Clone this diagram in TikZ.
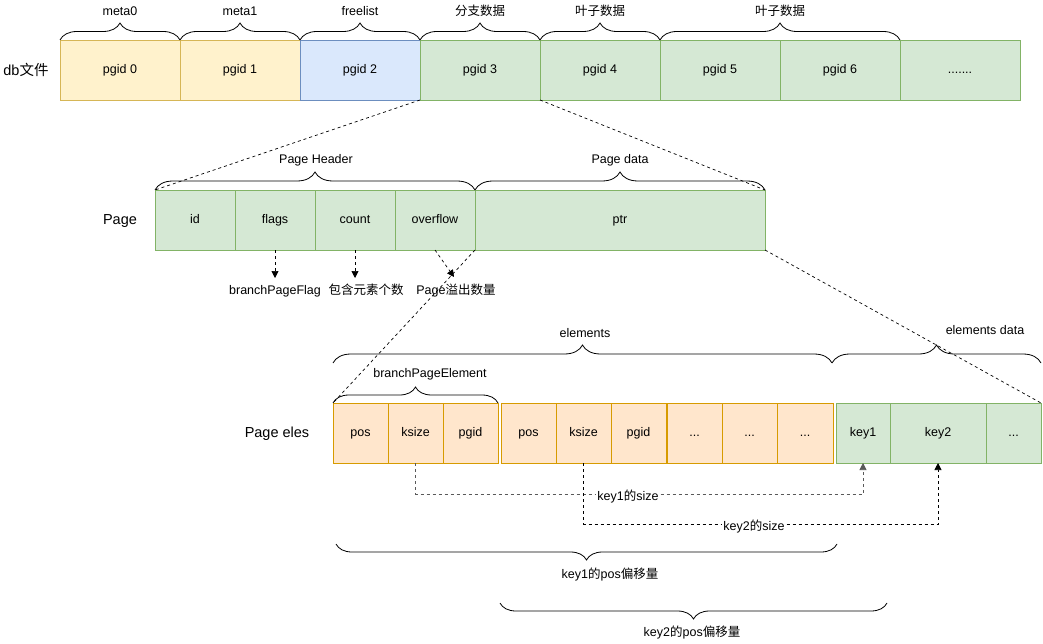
\documentclass[tikz,border=0pt]{standalone}
\usepackage{fontspec}
\setmainfont{Liberation Sans}
\newfontfamily\cjk{Noto Sans CJK SC}
\usetikzlibrary{decorations.pathreplacing,arrows.meta}
\definecolor{yfill}{HTML}{FFF2CC}
\definecolor{ystroke}{HTML}{D6B656}
\definecolor{bfill}{HTML}{DAE8FC}
\definecolor{bstroke}{HTML}{6C8EBF}
\definecolor{gfill}{HTML}{D5E8D4}
\definecolor{gstroke}{HTML}{82B366}
\definecolor{ofill}{HTML}{FFE6CC}
\definecolor{ostroke}{HTML}{D79B00}
\begin{document}
\begin{tikzpicture}[x=1pt,y=-1pt,
  font=\fontsize{12.5}{15}\selectfont,
  cell/.style={draw, line width=0.8pt, inner sep=0pt, outer sep=0pt, minimum height=60pt, text height=9pt, text depth=2.5pt},
  ycell/.style={cell, draw=ystroke, fill=yfill},
  bcell/.style={cell, draw=bstroke, fill=bfill},
  gcell/.style={cell, draw=gstroke, fill=gfill},
  ocell/.style={cell, draw=ostroke, fill=ofill},
  lbl/.style={inner sep=1pt, text height=9pt, text depth=2.5pt},
  rowlbl/.style={inner sep=1pt, font=\fontsize{14.5}{17}\selectfont},
  brc/.style={decorate, decoration={brace, amplitude=#1}, line width=0.8pt},
  dline/.style={line width=0.7pt, dash pattern=on 3pt off 3pt},
  tip/.style={-{Triangle[length=7pt,width=7pt]}}
]
\useasboundingbox (0,0) rectangle (1043,644);

% ---------- db file row ----------
\node[rowlbl] (dbl) at (26,70) {db{\cjk 文件}};
\node[ycell, minimum width=120pt] (p0) at (120,70) {pgid 0};
\node[ycell, minimum width=120pt] (p1) at (240,70) {pgid 1};
\node[bcell, minimum width=120pt] (p2) at (360,70) {pgid 2};
\node[gcell, minimum width=120pt] (p3) at (480,70) {pgid 3};
\node[gcell, minimum width=120pt] (p4) at (600,70) {pgid 4};
\node[gcell, minimum width=120pt] (p5) at (720,70) {pgid 5};
\node[gcell, minimum width=120pt] (p6) at (840,70) {pgid 6};
\node[gcell, minimum width=120pt] (p7) at (960,70) {.......};

\draw[brc=17pt] (p0.north west) -- (p0.north east);
\draw[brc=17pt] (p1.north west) -- (p1.north east);
\draw[brc=17pt] (p2.north west) -- (p2.north east);
\draw[brc=17pt] (p3.north west) -- (p3.north east);
\draw[brc=17pt] (p4.north west) -- (p4.north east);
\draw[brc=17pt] (p5.north west) -- (p6.north east);
\node[lbl] (t0) at (120,12) {meta0};
\node[lbl] (t1) at (240,12) {meta1};
\node[lbl] (t2) at (360,12) {freelist};
\node[lbl] (t3) at (480,12) {\cjk 分支数据};
\node[lbl] (t4) at (600,12) {\cjk 叶子数据};
\node[lbl] (t5) at (780,12) {\cjk 叶子数据};

% ---------- Page row ----------
\node[rowlbl] (pagel) at (120,221) {Page};
\node[gcell, minimum width=80pt] (id) at (195,220) {id};
\node[gcell, minimum width=80pt] (flags) at (275,220) {flags};
\node[gcell, minimum width=80pt] (count) at (355,220) {count};
\node[gcell, minimum width=80pt] (ovf) at (435,220) {overflow};
\node[gcell, minimum width=290pt] (ptr) at (620,220) {ptr};

\draw[brc=18pt] (id.north west) -- (ovf.north east);
\draw[brc=18pt] (ptr.north west) -- (ptr.north east);
\node[lbl] (ph) at (316,160) {Page Header};
\node[lbl] (pd) at (620,160) {Page data};

\draw[dline] (p3.south west) -- (id.north west);
\draw[dline] (p3.south east) -- (ptr.north east);

\coordinate (fa) at (275,278);
\coordinate (ca) at (355,278);
\coordinate (oa) at (454,277);
\draw[dline, tip] (flags.south) -- (fa);
\draw[dline, tip] (count.south) -- (ca);
\draw[dline, tip] (ovf.south) -- (oa);
\node[lbl] (lf) at (275,291) {branchPageFlag};
\node[lbl] (lc) at (366,291) {\cjk 包含元素个数};
\node[lbl] (lo) at (456,291) {Page{\cjk 溢出数量}};

% ---------- Page eles row ----------
\node[rowlbl] (elesl) at (277,434) {Page eles};
\node[ocell, minimum width=55pt] (e1) at (360.5,433) {pos};
\node[ocell, minimum width=55pt] (ks1) at (415.5,433) {ksize};
\node[ocell, minimum width=55pt] (e3) at (470.5,433) {pgid};
\node[ocell, minimum width=55pt] (f1) at (528.5,433) {pos};
\node[ocell, minimum width=55pt] (ks2) at (583.5,433) {ksize};
\node[ocell, minimum width=55pt] (f3) at (638.5,433) {pgid};
\node[ocell, minimum width=55pt] (g1) at (694.5,433) {...};
\node[ocell, minimum width=55pt] (g2) at (749.5,433) {...};
\node[ocell, minimum width=56pt] (g3) at (805,433) {...};
\node[gcell, minimum width=54pt] (key1) at (863,433) {key1};
\node[gcell, minimum width=96pt] (key2) at (938,433) {key2};
\node[gcell, minimum width=55pt] (d3) at (1013.5,433) {...};

\coordinate (elA) at (333,363);
\coordinate (elB) at (832,363);
\coordinate (elC) at (1041,363);
\draw[brc=18pt] (elA) -- (elB);
\draw[brc=18pt] (elB) -- (elC);
\draw[brc=16pt] (e1.north west) -- (e3.north east);
\node[lbl] (le) at (585,334) {elements};
\node[lbl] (led) at (985,331) {elements data};
\node[lbl] (lbe) at (430,374) {branchPageElement};

\draw[dline] (ptr.south west) -- (e1.north west);
\draw[dline] (ptr.south east) -- (d3.north east);

% ---------- size connectors ----------
\coordinate (h1) at (0,494);
\coordinate (h2) at (0,524);
\draw[dline, gray!70!black, tip] (ks1.south) -- (ks1.south |- h1) -- (key1.south |- h1) -- (key1.south);
\draw[dline, tip] (ks2.south) -- (ks2.south |- h2) -- (key2.south |- h2) -- (key2.south);
\node[lbl, fill=white] (s1) at (628,497) {key1{\cjk 的}size};
\node[lbl, fill=white] (s2) at (754,527) {key2{\cjk 的}size};

% ---------- pos offset braces ----------
\coordinate (k1a) at (336,544);
\coordinate (k1b) at (837,544);
\coordinate (k2a) at (500,603);
\coordinate (k2b) at (887,603);
\draw[brc=16pt] (k1b) -- (k1a);
\draw[brc=16pt] (k2b) -- (k2a);
\node[lbl] (lp1) at (610,575) {key1{\cjk 的}pos{\cjk 偏移量}};
\node[lbl] (lp2) at (692,633) {key2{\cjk 的}pos{\cjk 偏移量}};
\end{tikzpicture}
\end{document}
